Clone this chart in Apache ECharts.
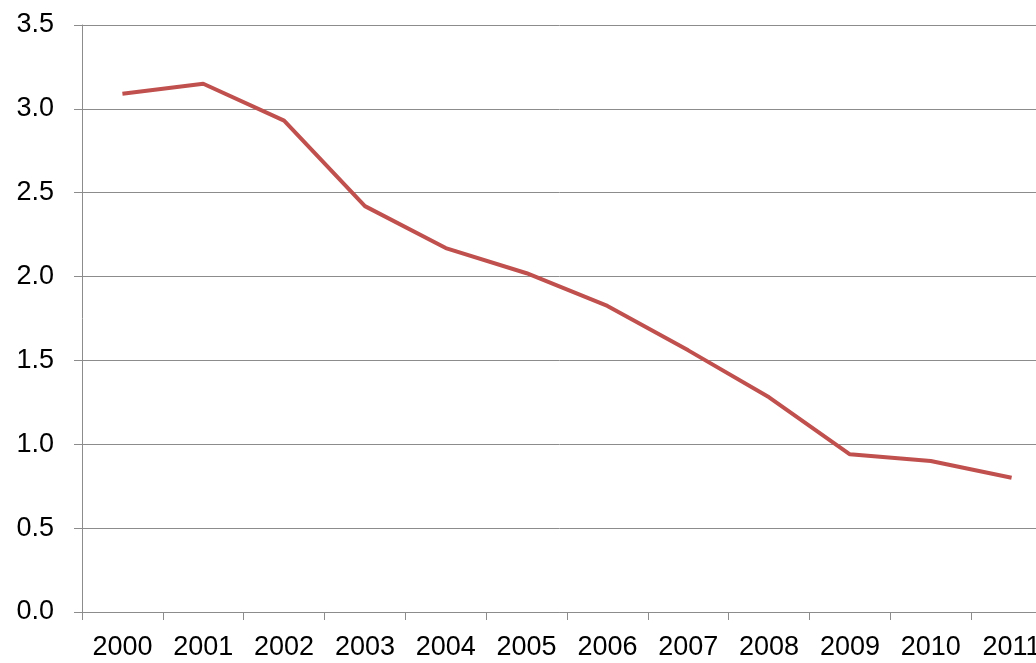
<!DOCTYPE html>
<html>
<head>
<meta charset="utf-8">
<script src="https://cdn.jsdelivr.net/npm/echarts@6/dist/echarts.min.js"></script>
<style>
html,body{margin:0;padding:0;background:#fff;}
#chart{width:1036px;height:663px;}
</style>
</head>
<body>
<div id="chart"></div>
<script>
const years = ['2000','2001','2002','2003','2004','2005','2006','2007','2008','2009','2010','2011'];
const values = [3.09, 3.15, 2.93, 2.42, 2.17, 2.02, 1.825, 1.56, 1.28, 0.94, 0.90, 0.80];

const chart = echarts.init(document.getElementById('chart'), null, {renderer:'canvas'});
const axisGray = '#8c8c8c';
chart.setOption({
  animation: false,
  backgroundColor: '#fff',
  grid: {left: 82, top: 25, width: 970, height: 587, containLabel: false, outerBoundsMode: 'none'},
  xAxis: {
    type: 'category',
    data: years,
    boundaryGap: true,
    axisLine: {lineStyle: {color: axisGray, width: 1}},
    axisTick: {show: true, length: 8, interval: 0, alignWithLabel: false, lineStyle: {color: axisGray}},
    axisLabel: {color: '#000', fontSize: 27, fontFamily: 'Liberation Sans, Arial, sans-serif', margin: 22, interval: 0, hideOverlap: false},
    splitLine: {show: false}
  },
  yAxis: {
    type: 'value',
    min: 0, max: 3.5, interval: 0.5,
    axisLine: {show: true, lineStyle: {color: axisGray, width: 1}},
    axisTick: {show: true, length: 8, lineStyle: {color: axisGray}},
    axisLabel: {color: '#000', fontSize: 27, fontFamily: 'Liberation Sans, Arial, sans-serif', margin: 28,
      formatter: v => v.toFixed(1)},
    splitLine: {show: true, lineStyle: {color: axisGray, width: 1}}
  },
  series: [{
    type: 'line',
    data: values,
    symbol: 'none',
    lineStyle: {color: '#C0504D', width: 4},
    itemStyle: {color: '#C0504D'}
  }]
});
</script>
</body>
</html>
